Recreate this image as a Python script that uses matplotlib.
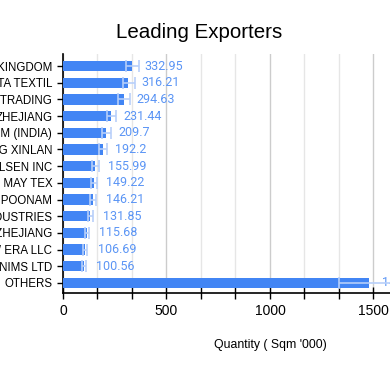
import matplotlib.pyplot as plt
from matplotlib.ticker import MultipleLocator

# exporters (names are cut off on the left in the original)
exporters = [
    "UNITED KINGDOM", "SANTISTA TEXTIL", "GLOBAL TRADING", "ZHEJIANG",
    "UCO DENIM (INDIA)", "SHAOXING XINLAN", "OLSEN INC", "SRI MAY TEX",
    "SHRI POONAM", "RAYMOND INDUSTRIES", "HAINING ZHEJIANG", "NEW ERA LLC",
    "DENIMS LTD", "OTHERS",
]
quantity = [332.95, 316.21, 294.63, 231.44, 209.7, 192.2, 155.99,
            149.22, 146.21, 131.85, 115.68, 106.69, 100.56, 1480.12]
# error bar ends (low / high)
err_low = [304, 289, 268, 211, 190, 174, 140, 135, 132, 119, 104, 96, 91, 1332]
err_high = [368, 346, 326, 254, 231, 213, 172, 165, 161, 145, 128, 118, 111, 1630]

bar_color = "#4285f4"
err_color = "#b7cffa"
label_color = "#5b95f5"

fig = plt.figure(figsize=(3.9, 3.71), dpi=100)
ax = fig.add_axes([63 / 390, 78 / 371, 345 / 390, 239 / 371])

pos = list(range(len(exporters)))
ax.barh(pos, quantity, height=0.62, color=bar_color, zorder=3)

xerr = [[q - lo for q, lo in zip(quantity, err_low)],
        [hi - q for q, hi in zip(quantity, err_high)]]
ax.errorbar(quantity, pos, xerr=xerr, fmt="none", ecolor=err_color,
            elinewidth=1.3, capsize=4.5, capthick=1.3, alpha=0.9, zorder=4)

for y, q in zip(pos, quantity):
    ax.annotate(f"{q:g}", (q, y), xytext=(9, 0), textcoords="offset points",
                ha="left", va="center", fontsize=9, color=label_color,
                family="Roboto", annotation_clip=False)

ax.set_xlim(0, 1666.67)
ax.set_ylim(13.6, -0.72)
ax.set_yticks(pos)
ax.set_yticklabels(exporters, fontsize=8.3, family="Liberation Sans")
ax.xaxis.set_major_locator(MultipleLocator(500))
ax.xaxis.set_minor_locator(MultipleLocator(500 / 3))
ax.tick_params(axis="x", which="both", direction="inout", length=8, width=1,
               labelsize=10, pad=4)
ax.tick_params(axis="y", direction="inout", length=8.6, width=1, pad=3.5)
for lbl in ax.get_xticklabels():
    lbl.set_family("Liberation Sans")

ax.grid(axis="x", which="major", color="#cccccc", linewidth=1, zorder=0)
ax.grid(axis="x", which="minor", color="#e6e6e6", linewidth=1, zorder=0)
ax.grid(axis="y", visible=False)
for side in ["top", "right"]:
    ax.spines[side].set_visible(False)
ax.spines["left"].set_linewidth(1.2)
ax.spines["bottom"].set_linewidth(1.2)

fig.text(199 / 390, 1 - 33 / 371, "Leading Exporters", ha="center", va="center",
         fontsize=14.8, family="Liberation Sans")
fig.text(270 / 390, 1 - 345 / 371, "Quantity ( Sqm '000)", ha="center",
         va="center", fontsize=8.8, family="Liberation Sans")

fig.savefig("out.png", dpi=100)
